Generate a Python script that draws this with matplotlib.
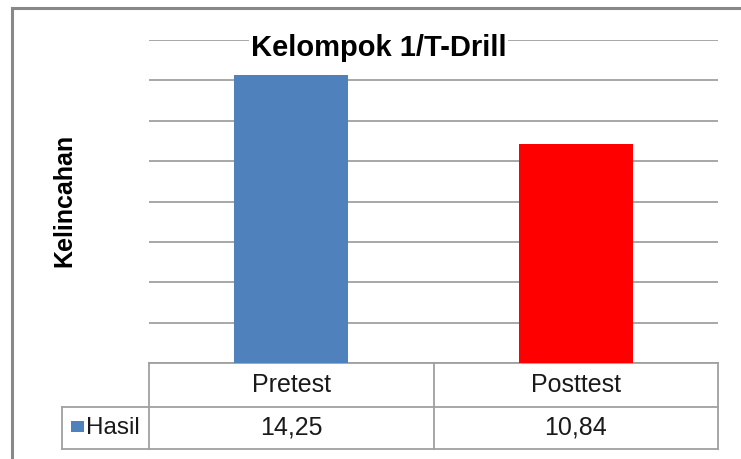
import matplotlib
matplotlib.use("Agg")
import matplotlib.pyplot as plt
from matplotlib.transforms import blended_transform_factory
from matplotlib.patches import Rectangle
from matplotlib.lines import Line2D

# ---- data ----
categories = ["Pretest", "Posttest"]
values = [14.25, 10.84]
value_labels = ["14,25", "10,84"]
series_name = "Hasil"
bar_colors = ["#4F81BD", "#FF0000"]
title = "Kelompok 1/T-Drill"
ylabel = "Kelincahan"

W, H = 741, 459
DPI = 100
plt.rcParams['font.family'] = ['Liberation Sans', 'DejaVu Sans']

fig = plt.figure(figsize=(W / DPI, H / DPI), dpi=DPI)
fig.patch.set_facecolor("white")

def px_rect(x0, y0, x1, y1):
    return [x0 / W, 1 - y1 / H, (x1 - x0) / W, (y1 - y0) / H]

ax = fig.add_axes(px_rect(149, 40, 718, 363))
ax.set_xlim(-0.5, len(categories) - 0.5)
ax.set_ylim(0, 16)
ax.set_yticks(range(0, 17, 2))
ax.yaxis.grid(True, color="#a0a0a0", linewidth=1.3)
ax.set_axisbelow(True)
for s in ax.spines.values():
    s.set_visible(False)
ax.tick_params(left=False, bottom=False, labelleft=False, labelbottom=False)

x = list(range(len(categories)))
ax.bar(x, values, width=0.4, color=bar_colors, zorder=3)

# title (white box hides the gridline behind it)
fig.text(378.5 / W, 1 - 48 / H, title, ha="center", va="center",
         fontsize=21, fontweight="bold", color="black", zorder=10,
         bbox=dict(facecolor="white", edgecolor="none", pad=1))
# y label
fig.text(64 / W, 1 - 200 / H, ylabel, ha="center", va="center",
         rotation=90, fontsize=18, fontweight="bold", color="black")

# ---- data table (below axis) ----
tr = blended_transform_factory(ax.transData, ax.transAxes)
ax_h = 363 - 40
row1 = -44 / ax_h
row2 = -86 / ax_h
cat_w = (718 - 149) / len(categories)
left_edge = -0.5 + (62 - 149) / cat_w
lc = "#a0a0a0"
lw = 1.3
xmin, xmax = -0.5, len(categories) - 0.5

def hline(x0, x1, y):
    ax.add_line(Line2D([x0, x1], [y, y], transform=tr, color=lc, lw=lw, clip_on=False))

def vline(xv, y0, y1):
    ax.add_line(Line2D([xv, xv], [y0, y1], transform=tr, color=lc, lw=lw, clip_on=False))

hline(xmin, xmax, 0)
hline(left_edge, xmax, row1)
hline(left_edge, xmax, row2)
for b in [xmin + i for i in range(len(categories) + 1)]:
    vline(b, 0, row2)
vline(left_edge, row1, row2)

for i, (c, v) in enumerate(zip(categories, value_labels)):
    ax.text(i, row1 / 2, c, transform=tr, ha="center", va="center",
            fontsize=18, color="#1a1a1a", clip_on=False)
    ax.text(i, (row1 + row2) / 2, v, transform=tr, ha="center", va="center",
            fontsize=18, color="#1a1a1a", clip_on=False)

# legend key in table
fig.patches.append(Rectangle((71 / W, 1 - 432 / H), 13 / W, 11 / H,
                             transform=fig.transFigure, facecolor=bar_colors[0],
                             edgecolor="none"))
fig.text(86 / W, 1 - 428 / H, series_name, ha="left", va="center",
         fontsize=17.5, color="#1a1a1a")

# outer chart frame
fig.add_artist(Line2D([11.5 / W, 11.5 / W], [1 - 459 / H, 1 - 7.5 / H],
                      transform=fig.transFigure, color="#888888", lw=2.2))
fig.add_artist(Line2D([11.5 / W, 1], [1 - 7.5 / H, 1 - 7.5 / H],
                      transform=fig.transFigure, color="#888888", lw=2.2))

fig.savefig("out.png", dpi=DPI, facecolor="white")
